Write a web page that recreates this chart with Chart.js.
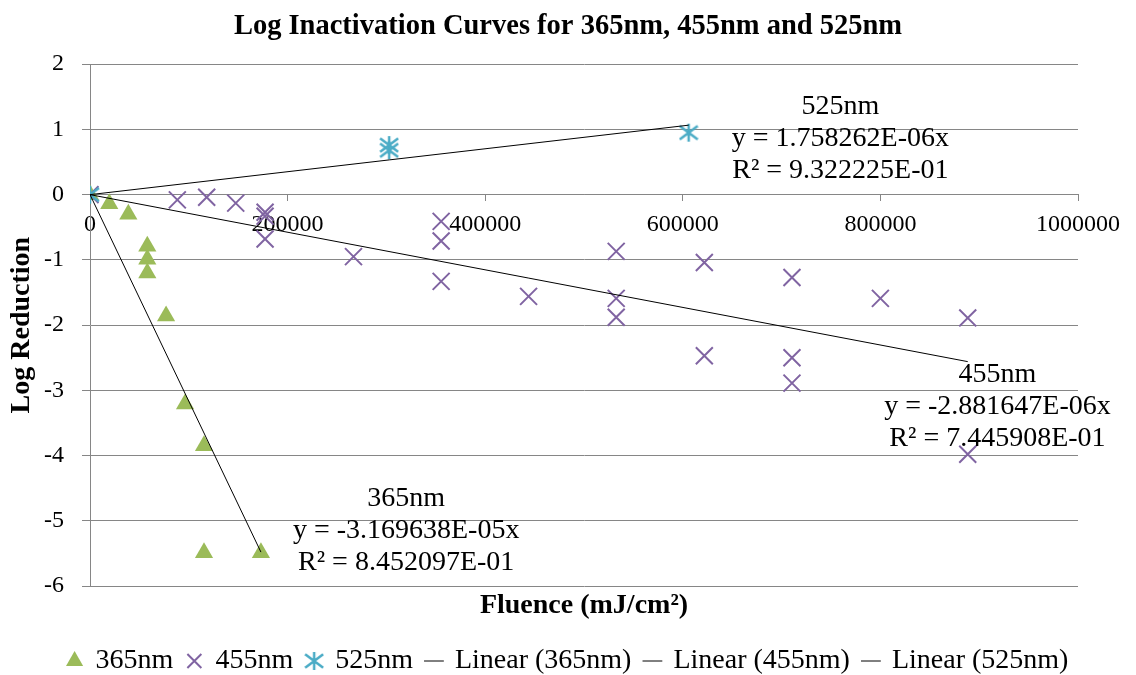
<!DOCTYPE html>
<html>
<head>
<meta charset="utf-8">
<script src="https://cdn.jsdelivr.net/npm/chart.js@4.4.0/dist/chart.umd.min.js"></script>
<style>
html, body { margin: 0; padding: 0; background: #fff; }
#wrap { width: 1136px; height: 675px; }
</style>
</head>
<body>
<div id="wrap"><canvas id="c"></canvas></div>
<script>
var fluence365 = [0, 19500, 38800, 58000, 58000, 58000, 77000, 96200, 115400, 115400, 173000];
var logred365 = [0, -0.14, -0.30, -0.79, -0.99, -1.20, -1.86, -3.21, -3.85, -5.49, -5.49];

var fluence455 = [0, 88400, 118100, 147500, 177200, 177200, 177200, 266700, 355400, 355400, 355400,
  443900, 532600, 532600, 532600, 621800, 621800, 710500, 710500, 710500, 800000, 888400, 888400];
var logred455 = [0, -0.08, -0.04, -0.13, -0.27, -0.33, -0.68, -0.95, -0.41, -0.71, -1.33,
  -1.56, -0.87, -1.59, -1.88, -1.04, -2.47, -1.27, -2.50, -2.89, -1.59, -1.89, -3.98];

var fluence525 = [0, 302800, 302800, 605900];
var logred525 = [0, 0.68, 0.76, 0.95];

// trendline ends (through origin)
var trend365X = [0, 173000], trend365Y = [0, -5.48];
var trend455X = [0, 888400], trend455Y = [0, -2.56];
var trend525X = [0, 605900], trend525Y = [0, 1.065];

var xTicks = [0, 200000, 400000, 600000, 800000, 1000000];

var eqLabels = [
  { lines: ['365nm', 'y = -3.169638E-05x', 'R\u00b2 = 8.452097E-01'], x: 320000, y: -5.155 },
  { lines: ['455nm', 'y = -2.881647E-06x', 'R\u00b2 = 7.445908E-01'], x: 918500, y: -3.253 },
  { lines: ['525nm', 'y = 1.758262E-06x', 'R\u00b2 = 9.322225E-01'], x: 759500, y: 0.857 }
];

function pts(xs, ys) {
  return xs.map(function (v, i) { return { x: v, y: ys[i] }; });
}

// excel style asterisk marker
function asterisk(size, color) {
  var c = document.createElement('canvas');
  c.width = size; c.height = size;
  var g = c.getContext('2d');
  var m = size / 2, r = size / 2 - 1;
  g.strokeStyle = color;
  g.lineWidth = 2.5;
  g.beginPath();
  g.moveTo(m, m - r); g.lineTo(m, m + r);
  g.moveTo(m - r, m - r * 0.75); g.lineTo(m + r, m + r * 0.75);
  g.moveTo(m - r, m + r * 0.75); g.lineTo(m + r, m - r * 0.75);
  g.stroke();
  return c;
}

var serif = '"Liberation Serif", "Times New Roman", serif';
var gridCol = '#868686';

var eqPlugin = {
  id: 'eqLabels',
  afterDatasetsDraw: function (chart) {
    var ctx = chart.ctx, xs = chart.scales.x, ys = chart.scales.y;
    ctx.save();
    ctx.font = '28px ' + serif;
    ctx.fillStyle = '#000';
    ctx.textAlign = 'center';
    ctx.textBaseline = 'middle';
    eqLabels.forEach(function (lb) {
      var px = xs.getPixelForValue(lb.x), py = ys.getPixelForValue(lb.y);
      lb.lines.forEach(function (t, i) { ctx.fillText(t, px, py + (i - 1) * 32); });
    });
    ctx.restore();
  }
};

new Chart(document.getElementById('c'), {
  type: 'scatter',
  data: {
    datasets: [
      { label: '365nm', data: pts(fluence365, logred365), order: 3,
        pointStyle: 'triangle', pointRadius: 10.5, pointBackgroundColor: '#9BBB59',
        pointBorderColor: '#9BBB59', pointBorderWidth: 0, backgroundColor: '#9BBB59', borderColor: '#9BBB59' },
      { label: '455nm', data: pts(fluence455, logred455), order: 2,
        pointStyle: 'crossRot', pointRadius: 12, pointBorderColor: '#8064A2', pointBorderWidth: 2,
        borderColor: '#8064A2', backgroundColor: '#8064A2' },
      { label: '525nm', data: pts(fluence525, logred525), order: 1,
        pointStyle: asterisk(20, '#4BACC6'), pointRadius: 10,
        borderColor: '#4BACC6', backgroundColor: '#4BACC6' },
      { label: 'Linear (365nm)', data: pts(trend365X, trend365Y), order: 0, showLine: true,
        borderColor: '#000', borderWidth: 1, pointRadius: 0, pointStyle: 'line' },
      { label: 'Linear (455nm)', data: pts(trend455X, trend455Y), order: 0, showLine: true,
        borderColor: '#000', borderWidth: 1, pointRadius: 0, pointStyle: 'line' },
      { label: 'Linear (525nm)', data: pts(trend525X, trend525Y), order: 0, showLine: true,
        borderColor: '#000', borderWidth: 1, pointRadius: 0, pointStyle: 'line' }
    ]
  },
  options: {
    responsive: true,
    maintainAspectRatio: false,
    animation: false,
    devicePixelRatio: 1,
    layout: { padding: { left: 0, right: 0, top: 0, bottom: -10 } },
    plugins: {
      title: {
        display: true,
        text: 'Log Inactivation Curves for 365nm, 455nm and 525nm',
        color: '#000',
        font: { family: serif, size: 28.5, weight: 'bold' },
        padding: { top: 10, bottom: 20 }
      },
      legend: {
        position: 'bottom',
        labels: {
          usePointStyle: true,
          boxWidth: 14,
          boxHeight: 14,
          padding: 14,
          color: '#000',
          font: { family: serif, size: 28 },
          sort: function (a, b) { return a.datasetIndex - b.datasetIndex; }
        }
      },
      tooltip: { enabled: false }
    },
    scales: {
      x: {
        type: 'linear',
        position: { y: 0 },
        min: 0,
        max: 1000000,
        afterBuildTicks: function (s) { s.ticks = xTicks.map(function (v) { return { value: v }; }); },
        ticks: {
          color: '#000',
          font: { family: serif, size: 24 },
          padding: 10,
          maxRotation: 0,
          autoSkip: false,
          callback: function (v) { return String(v); }
        },
        grid: { drawOnChartArea: false, drawTicks: true, tickLength: 6, color: gridCol },
        border: { display: true, color: gridCol }
      },
      x2: {
        type: 'linear',
        position: 'bottom',
        min: 0,
        max: 1,
        ticks: { display: false },
        grid: { display: false, drawTicks: false },
        border: { display: false },
        title: {
          display: true,
          text: 'Fluence (mJ/cm\u00b2)',
          color: '#000',
          font: { family: serif, size: 28, weight: 'bold' },
          padding: { top: 3, bottom: 10 }
        },
        afterFit: function (s) { s.height = 47; }
      },
      y: {
        type: 'linear',
        min: -6,
        max: 2,
        ticks: { stepSize: 1, color: '#000', font: { family: serif, size: 24 }, padding: 18 },
        grid: { color: gridCol, tickLength: 8 },
        border: { display: true, color: gridCol },
        title: {
          display: true,
          text: 'Log Reduction',
          color: '#000',
          font: { family: serif, size: 28, weight: 'bold' },
          padding: { top: 5, bottom: 0 }
        },
        afterFit: function (s) { s.width = 90; }
      },
      // empty right axis, only reserves the margin right of the plot
      y2: {
        type: 'linear',
        position: 'right',
        min: 0,
        max: 1,
        ticks: { display: false },
        grid: { display: false, drawTicks: false },
        border: { display: false },
        afterFit: function (s) { s.width = 58; }
      }
    }
  },
  plugins: [eqPlugin]
});
</script>
</body>
</html>
